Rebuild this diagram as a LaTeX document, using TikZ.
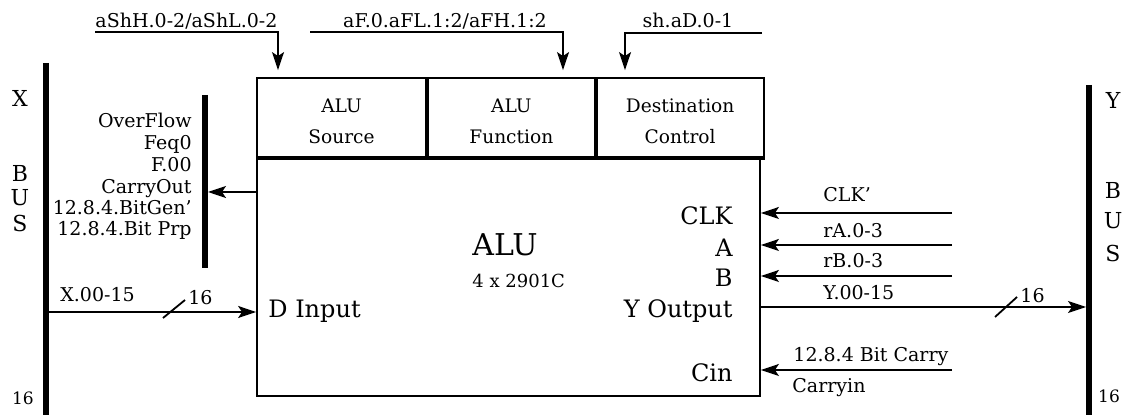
\documentclass[tikz,border=0pt]{standalone}
\usepackage{fontspec}
\setmainfont{DejaVu Serif}
\usetikzlibrary{arrows.meta, positioning, calc}
\tikzset{
  cell/.style={draw, line width=0.9pt, minimum height=39.5pt, inner sep=0pt},
  hdr/.style={inner sep=0pt, align=center, yshift=-2pt, font=\fontsize{9.3}{15.5}\selectfont},
  body/.style={draw, line width=0.9pt, minimum width=251.5pt, minimum height=118.5pt, inner sep=0pt},
  arr/.style={-{Stealth[length=9pt, width=6pt, inset=2pt]}, line width=0.9pt},
  wire/.style={line width=0.9pt},
  bus/.style={line width=3pt},
  lbl/.style={inner sep=0pt, font=\fontsize{9.5}{11}\selectfont},
  port/.style={inner sep=0pt, font=\fontsize{12}{14}\selectfont},
  busname/.style={inner sep=0pt, font=\fontsize{11}{13}\selectfont},
  width/.style={inner sep=0pt, font=\fontsize{8.5}{10}\selectfont},
}
\begin{document}
\begin{tikzpicture}[x=0.5pt, y=-0.5pt]
    \useasboundingbox (0,0) rectangle (1127,415);
    \node[cell, minimum width=84.5pt, label={[hdr]center:ALU\\Source}] (src) at (341.5,117.5) {};
    \node[cell, minimum width=83.5pt, right=0pt of src, label={[hdr]center:ALU\\Function}] (fun) {};
    \node[cell, minimum width=83.5pt, right=0pt of fun, label={[hdr]center:Destination\\Control}] (dst) {};
    \node[body, anchor=north west] (alu) at (src.south west) {};
    \draw[line width=2pt] (src.south west) -- (dst.south east);
    \node[inner sep=0pt, anchor=west, font=\fontsize{15}{17}\selectfont] (aluname) at (472,245) {ALU};
    \node[inner sep=0pt, anchor=west, font=\fontsize{9}{11}\selectfont] (alutype) at (472,281) {4 x 2901C};
    \node[port, anchor=base west] (din) at (268,318) {D Input};
    \node[port, anchor=base east] (clk) at (733,225) {CLK};
    \node[port, anchor=base east] (pa) at (733,257) {A};
    \node[port, anchor=base east] (pb) at (733,287) {B};
    \node[port, anchor=base east] (yo) at (733,318) {Y Output};
    \node[port, anchor=base east] (cin) at (733,382) {Cin};
    % buses
    \coordinate (xbtop) at (46,63);
    \coordinate (xbbot) at (46,415);
    \coordinate (ybtop) at (1089,85);
    \coordinate (ybbot) at (1089,415);
    \coordinate (sttop) at (205,95);
    \coordinate (stbot) at (205,268);
    \draw[bus] (xbtop) -- (xbbot);
    \draw[bus] (ybtop) -- (ybbot);
    \draw[bus] (sttop) -- (stbot);
    \node[busname] (xl) at (20,98) {X};
    \node[busname] (xb) at (20,173) {B};
    \node[busname] (xu) at (20,198) {U};
    \node[busname] (xs) at (20,223) {S};
    \node[busname] (yl) at (1113,100) {Y};
    \node[busname] (yb) at (1113,190) {B};
    \node[busname] (yu) at (1113,221) {U};
    \node[busname] (ys) at (1113,253) {S};
    \node[width, anchor=base] (xw) at (23,405) {16};
    \node[width, anchor=base] (yw) at (1109,403) {16};
    % status outputs
    \foreach \t/\y [count=\i] in {OverFlow/128, Feq0/150, F.00/172, CarryOut/194,
        12.8.4.BitGen'/215, 12.8.4.Bit Prp/236}
      \node[lbl, anchor=base east] (st\i) at (192,\y) {\t};
    \coordinate (cotip) at (208,192);
    \draw[arr] (cotip -| alu.west) -- (cotip);
    % control inputs
    \coordinate (ashtail) at (95,32);
    \coordinate (ashturn) at (278,32);
    \coordinate (afntail) at (310,32);
    \coordinate (afnturn) at (563,32);
    \coordinate (shdtail) at (762,33);
    \coordinate (shdturn) at (625,33);
    \draw[arr, shorten >=3.5pt] (ashtail) -- (ashturn) -- (ashturn |- src.north);
    \draw[arr, shorten >=3.5pt] (afntail) -- (afnturn) -- (afnturn |- fun.north);
    \draw[arr, shorten >=3.5pt] (shdtail) -- (shdturn) -- (shdturn |- dst.north);
    \node[lbl, anchor=base] (ashl) at (186.5,28) {aShH.0-2/aShL.0-2};
    \node[lbl, anchor=base] (afnl) at (445,28) {aF.0.aFL.1:2/aFH.1:2};
    \node[lbl, anchor=base] (shdl) at (688,28) {sh.aD.0-1};
    % X bus in
    \coordinate (xtail) at (49,312);
    \draw[arr] (xtail) -- (xtail -| alu.west);
    \draw[wire] (163,318) -- (185,300);
    \node[lbl, anchor=base west] (xinl) at (60,302) {X.00-15};
    \node[lbl, anchor=base west] (xinw) at (188,305) {16};
    % right side
    \coordinate (clkin) at (952,213);
    \coordinate (rain) at (952,245);
    \coordinate (rbin) at (952,276);
    \coordinate (carin) at (952,370);
    \coordinate (ytip) at (1086,307);
    \draw[arr] (clkin) -- (clkin -| alu.east);
    \draw[arr] (rain) -- (rain -| alu.east);
    \draw[arr] (rbin) -- (rbin -| alu.east);
    \draw[arr] (carin) -- (carin -| alu.east);
    \draw[arr] (ytip -| alu.east) -- (ytip);
    \draw[wire] (995,317) -- (1017,297);
    \node[lbl, anchor=base west] (clkl) at (823,202) {CLK'};
    \node[lbl, anchor=base west] (ral) at (823,238) {rA.0-3};
    \node[lbl, anchor=base west] (rbl) at (823,268) {rB.0-3};
    \node[lbl, anchor=base west] (youtl) at (823,300) {Y.00-15};
    \node[lbl, anchor=base west] (yw16) at (1020,303) {16};
    \node[lbl, anchor=base west] (carl) at (793,362) {12.8.4 Bit Carry};
    \node[lbl, anchor=base west] (cinl) at (792,393) {Carryin};
\end{tikzpicture}
\end{document}
